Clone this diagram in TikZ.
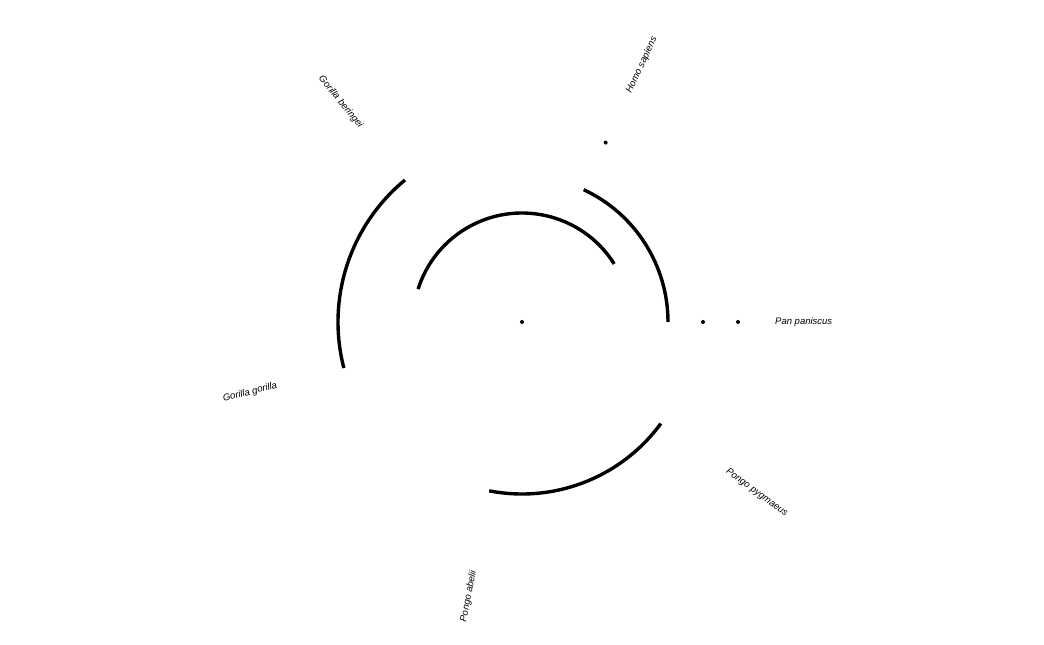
\documentclass[tikz,border=0pt]{standalone}
\usepackage{fontspec}
\setmainfont{Liberation Sans}
\usetikzlibrary{positioning}

\begin{document}
\begin{tikzpicture}[
  x=1pt,y=1pt,
  branch/.style={line width=3.4pt},
  tip/.style={font=\fontsize{9.5}{11}\selectfont\itshape,inner sep=0pt},
  dot/.style={circle,fill=black,inner sep=0pt,minimum size=4pt}
]
\useasboundingbox (-522,-323) rectangle (522,322);

% root and inner nodes
\node[dot] (root) at (0,0) {};
\node[dot] (homo) at (65:198) {};
\node[dot] (panA) at (0:181) {};
\node[dot] (panB) at (0:216) {};

% tip labels
\node[tip,anchor=west,rotate=65] (hsap) at (65:253) {Homo sapiens};
\node[tip,anchor=east,rotate=-50.5] (gber) at (129.5:253) {Gorilla beringei};
\node[tip,anchor=east,rotate=14.5] (ggor) at (194.5:253) {Gorilla gorilla};
\node[tip,anchor=east,rotate=79] (pabe) at (259:253) {Pongo abelii};
\node[tip,anchor=west,rotate=-36] (ppyg) at (324:253) {Pongo pygmaeus};
\node[tip,anchor=west] (ppan) at (0:253) {Pan paniscus};

% arcs
\coordinate (hominini) at (32.2:109);
\coordinate (panhomo) at (0:146);
\coordinate (gorilla) at (129.5:184);
\coordinate (pongo) at (-101:172);
\draw[branch] (hominini) arc[start angle=32.2,end angle=162.4,radius=109];
\draw[branch] (panhomo) arc[start angle=0,end angle=65,radius=146];
\draw[branch] (gorilla) arc[start angle=129.5,end angle=194.5,radius=184];
\draw[branch] (pongo) arc[start angle=-101,end angle=-36.2,radius=172];
\end{tikzpicture}
\end{document}
